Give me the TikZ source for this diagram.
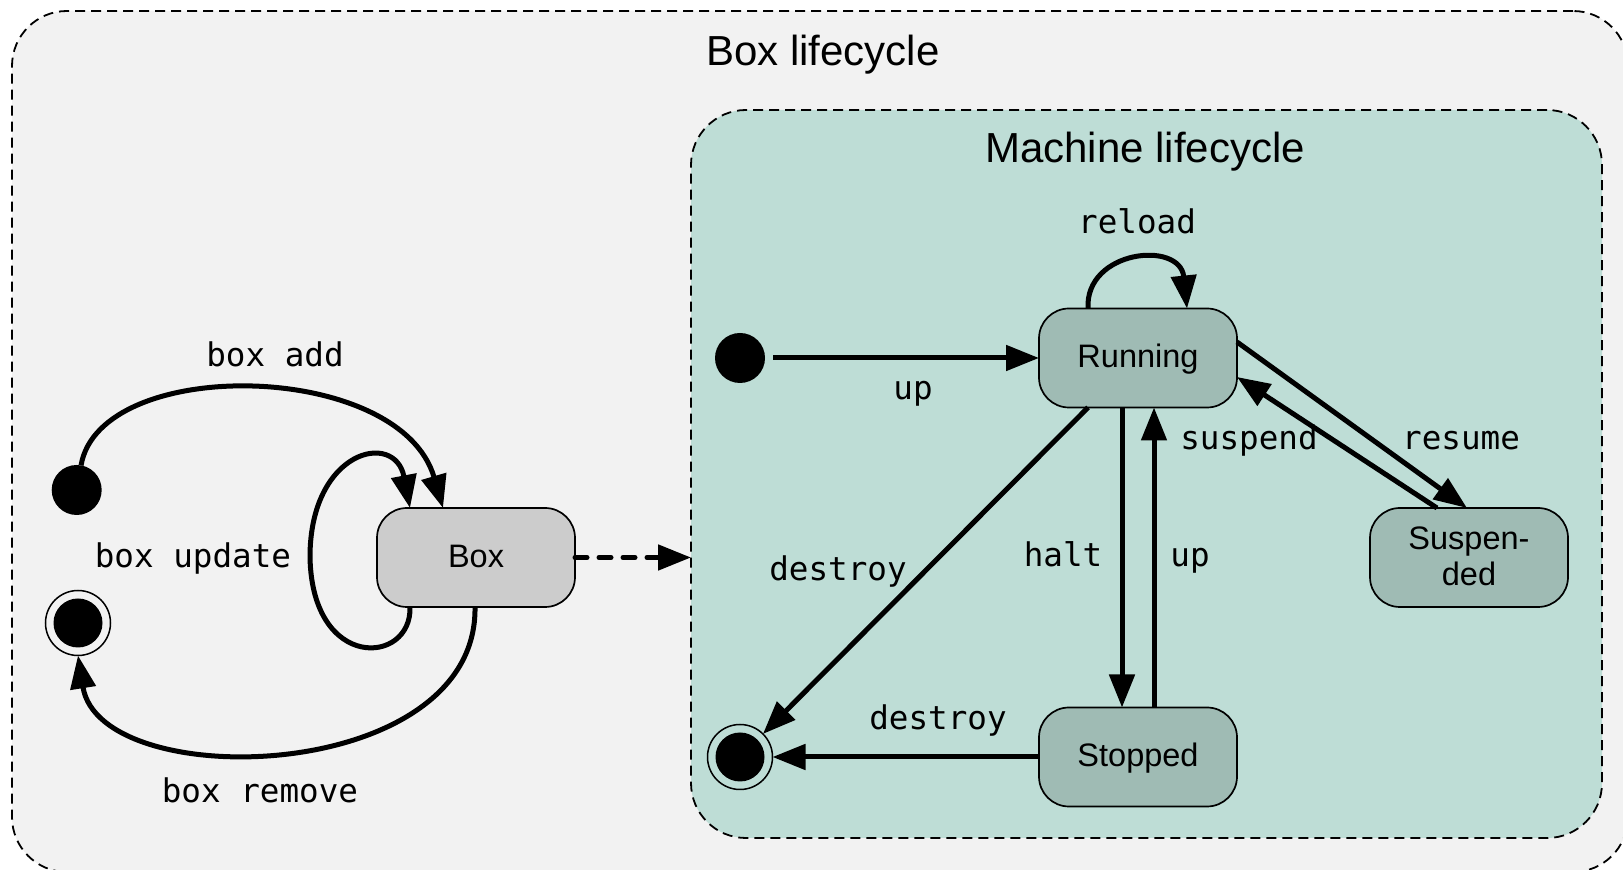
\documentclass[tikz,border=0pt]{standalone}
\usepackage{fontspec}
\setmainfont{Liberation Sans}
\newfontfamily\labelmono{DejaVu Sans Mono}
\usetikzlibrary{arrows.meta,calc}

\definecolor{outerbg}{HTML}{F2F2F2}
\definecolor{innerbg}{HTML}{BEDDD6}
\definecolor{statefill}{HTML}{9FBBB4}
\definecolor{boxfill}{HTML}{CCCCCC}

\begin{document}
\begin{tikzpicture}[x=0.5pt,y=-0.5pt,
  frame/.style={draw=black, line width=0.9pt, dash pattern=on 5pt off 3pt,
    rounded corners=27.5pt, inner sep=0pt, outer sep=0pt},
  state/.style={draw=black, line width=0.85pt, fill=statefill, rounded corners=15pt,
    minimum width=99pt, minimum height=49.5pt, inner sep=0pt, outer sep=0pt,
    font=\fontsize{16.25}{18}\selectfont, text height=10pt, text depth=0pt},
  initial/.style={circle, fill=black, minimum size=25pt, inner sep=0pt, outer sep=0pt},
  final/.style={circle, draw=black, line width=0.75pt, minimum size=32.5pt,
    inner sep=0pt, outer sep=0pt,
    path picture={\fill[black] (path picture bounding box.center) circle (12.25pt);}},
  trans/.style={line width=2.5pt, -{Triangle[length=16.5pt,width=12.5pt]}},
  lbl/.style={anchor=base, inner sep=0pt, font=\labelmono\fontsize{16.3}{19}\selectfont},
  title/.style={anchor=base, inner sep=0pt, font=\fontsize{21}{25}\selectfont},
]
\useasboundingbox (0,0) rectangle (1623,870);
\clip (0,0) rectangle (1623,870);

% enclosing regions
\node[frame, fill=outerbg, minimum width=808pt, minimum height=430.5pt] (boxlc) at (820,441.5) {};
\node[frame, fill=innerbg, minimum width=455.5pt, minimum height=364pt] (machlc) at (1146.5,474) {};
\node[title] (boxtitle) at (823,66) {Box lifecycle};
\node[title] (machtitle) at (1145,163) {Machine lifecycle};

% box states
\node[initial] (init1) at (76.7,490) {};
\node[final] (fin1) at (78,623) {};
\node[state, fill=boxfill] (box) at (476,557.5) {Box};

% machine states
\node[initial] (init2) at (740,358) {};
\node[final] (fin2) at (740,757) {};
\node[state] (run) at (1138,358) {Running};
\node[state] (stop) at (1138,757) {Stopped};
\node[state, align=center, text height=28.5pt, text depth=0pt] (susp) at (1469,557.5) {Suspen-\\ded};

% box transitions
\draw[trans] (init1.80) .. controls (100,355) and (400,360) .. ($(box.north)+(-33,0)$);
\draw[trans] ($(box.south)+(-66,0)$) .. controls (412,665) and (312,672) .. (310,557)
  .. controls (310,450) and (395,430) .. ($(box.north)+(-66,0)$);
\draw[trans] ($(box.south)+(-1,0)$) .. controls (478,785) and (100,795) .. (fin1.south);
\draw[trans, dash pattern=on 6pt off 6pt, line cap=round] (box.east) -- (box.east -| machlc.west);

\node[lbl] (ladd) at (275,367) {box add};
\node[lbl] (lupd) at (193,568) {box update};
\node[lbl] (lrem) at (260,803) {box remove};

% machine transitions
\draw[trans, shorten <=4pt] (init2) -- (run.west);
\draw[trans] ($(run.north)+(-50,0)$) .. controls (1085,250) and (1180,240) .. ($(run.north)+(49,0)$);
\draw[trans] ($(run.south)+(-16,0)$) -- ($(stop.north)+(-16,0)$);
\draw[trans] ($(stop.north)+(16,0)$) -- ($(run.south)+(16,0)$);
\draw[trans] ($(run.south)+(-50,0)$) -- (fin2);
\draw[trans] (stop.west) -- (fin2);
\draw[trans] ($(run.east)+(0,-16)$) -- ($(susp.north)+(-2,0)$);
\draw[trans] ($(susp.north)+(-32,0)$) -- ($(run.east)+(0,19)$);

\node[lbl] (lup1) at (913,400) {up};
\node[lbl] (lreload) at (1137,234) {reload};
\node[lbl] (lhalt) at (1063,567) {halt};
\node[lbl] (lup2) at (1190,567) {up};
\node[lbl] (ldes1) at (838,581) {destroy};
\node[lbl] (ldes2) at (938,730) {destroy};
\node[lbl] (lsusp) at (1249,450) {suspend};
\node[lbl] (lres) at (1461,450) {resume};
\end{tikzpicture}
\end{document}
